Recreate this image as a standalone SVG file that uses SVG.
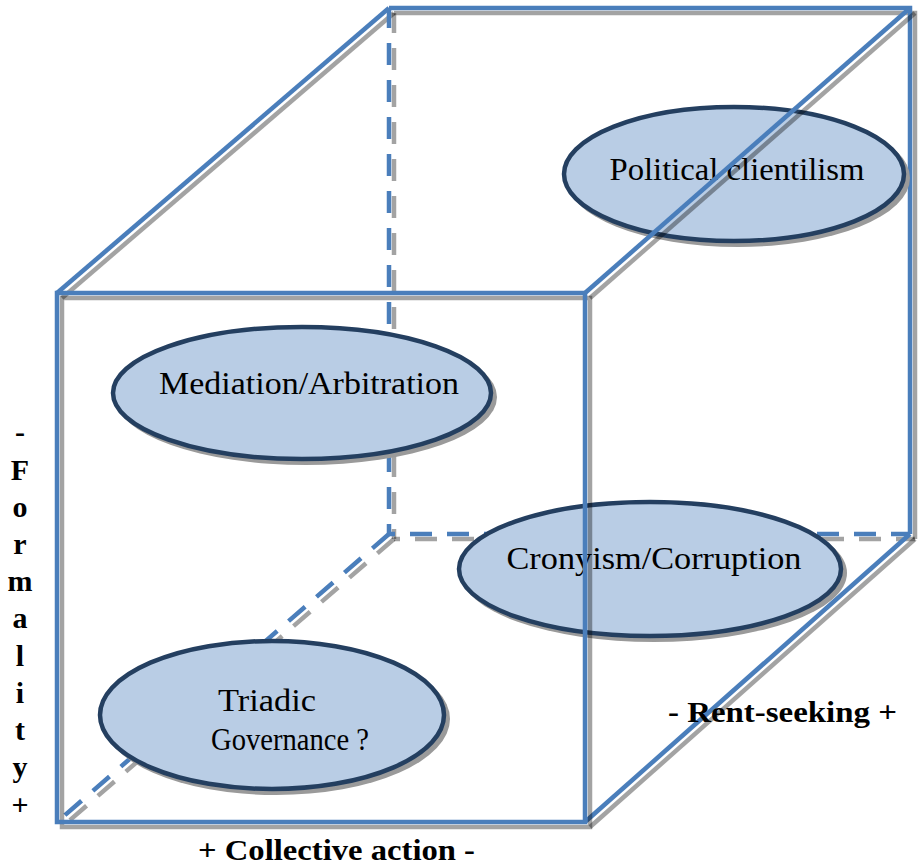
<svg xmlns="http://www.w3.org/2000/svg" xmlns:xlink="http://www.w3.org/1999/xlink" width="921" height="867" viewBox="0 0 921 867">
<style>
.edge{fill:none;stroke:#4A7EBB;stroke-width:4.5;stroke-linejoin:miter}
.sh{fill:none;stroke:#000;stroke-opacity:0.36;stroke-width:4.5;stroke-linejoin:miter}
.dash{stroke-dasharray:22 15}
.node{fill:#B9CDE5;stroke:#243F60;stroke-width:4.5}
.nsh{fill:#9a9a9a;stroke:none}
.lbl{font-family:"Liberation Serif",serif;font-size:32px;fill:#000;text-anchor:middle}
.axis{font-family:"Liberation Serif",serif;font-weight:bold;font-size:30px;fill:#000}
.vax{font-family:"Liberation Serif",serif;font-weight:bold;font-size:30px;fill:#000;text-anchor:middle}
</style>
<defs>
<path id="backV" d="M389,8 V534"/>
<path id="backB" d="M389,534 H910"/>
<path id="diagBL" d="M389,534 L57,822"/>
<path id="backTR" d="M389,8 H910 V534"/>
<path id="diagTL" d="M57,293 L389,8"/>
<path id="diagBR" d="M585,822 L910,534"/>
<path id="diagTR" d="M585,293 L910,8"/>
<path id="front" d="M57,293 H585 V822 H57 Z"/>
</defs>
<rect width="921" height="867" fill="#fff"/>
<g id="cube-back">
<use xlink:href="#backV" class="sh dash" style="stroke-dashoffset:2" transform="translate(5,5)"/>
<use xlink:href="#backB" class="sh dash" style="stroke-dashoffset:16" transform="translate(5,5)"/>
<use xlink:href="#diagBL" class="sh dash" transform="translate(5,5)"/>
<use xlink:href="#backTR" class="sh" transform="translate(5,5)"/>
<use xlink:href="#diagTL" class="sh" transform="translate(5,5)"/>
<use xlink:href="#diagBR" class="sh" transform="translate(5,5)"/>
<use xlink:href="#backV" class="edge dash" style="stroke-dashoffset:2"/>
<use xlink:href="#backB" class="edge dash" style="stroke-dashoffset:16"/>
<use xlink:href="#diagBL" class="edge dash"/>
<use xlink:href="#backTR" class="edge"/>
<use xlink:href="#diagTL" class="edge"/>
<use xlink:href="#diagBR" class="edge"/>
</g>
<g id="node-political-clientilism">
<ellipse class="nsh" cx="738" cy="178" rx="172" ry="69"/>
<ellipse class="node" cx="734" cy="174" rx="170" ry="67"/>
<text class="lbl" x="737" y="180" textLength="255" lengthAdjust="spacingAndGlyphs">Political clientilism</text>
</g>
<g id="node-mediation">
<ellipse class="nsh" cx="306" cy="397" rx="191" ry="68"/>
<ellipse class="node" cx="302" cy="393" rx="189" ry="66"/>
<text class="lbl" x="309" y="394" textLength="300" lengthAdjust="spacingAndGlyphs">Mediation/Arbitration</text>
</g>
<g id="node-cronyism">
<ellipse class="nsh" cx="654" cy="573" rx="193" ry="69"/>
<ellipse class="node" cx="650" cy="569" rx="191" ry="67"/>
<text class="lbl" x="654" y="569" textLength="295" lengthAdjust="spacingAndGlyphs">Cronyism/Corruption</text>
</g>
<g id="node-triadic">
<ellipse class="nsh" cx="276" cy="719" rx="174" ry="76"/>
<ellipse class="node" cx="272" cy="715" rx="172" ry="74"/>
<text class="lbl" x="267" y="711" textLength="98" lengthAdjust="spacingAndGlyphs">Triadic</text>
<text class="lbl" x="290" y="750" textLength="158" lengthAdjust="spacingAndGlyphs">Governance ?</text>
</g>
<g id="cube-front">
<use xlink:href="#diagTR" class="sh" transform="translate(5,5)"/>
<use xlink:href="#front" class="sh" transform="translate(5,5)"/>
<use xlink:href="#diagTR" class="edge"/>
<use xlink:href="#front" class="edge"/>
</g>
<g id="axis-labels">
<text class="axis" x="668" y="722" textLength="229" lengthAdjust="spacingAndGlyphs">- Rent-seeking +</text>
<text class="axis" x="198" y="860" textLength="277" lengthAdjust="spacingAndGlyphs">+ Collective action -</text>
<text class="vax" x="20" y="442">-</text>
<text class="vax" x="20" y="480">F</text>
<text class="vax" x="20" y="517">o</text>
<text class="vax" x="20" y="554">r</text>
<text class="vax" x="20" y="591">m</text>
<text class="vax" x="20" y="628">a</text>
<text class="vax" x="20" y="666">l</text>
<text class="vax" x="20" y="703">i</text>
<text class="vax" x="20" y="740">t</text>
<text class="vax" x="20" y="777">y</text>
<text class="vax" x="20" y="815">+</text>
</g>
</svg>
